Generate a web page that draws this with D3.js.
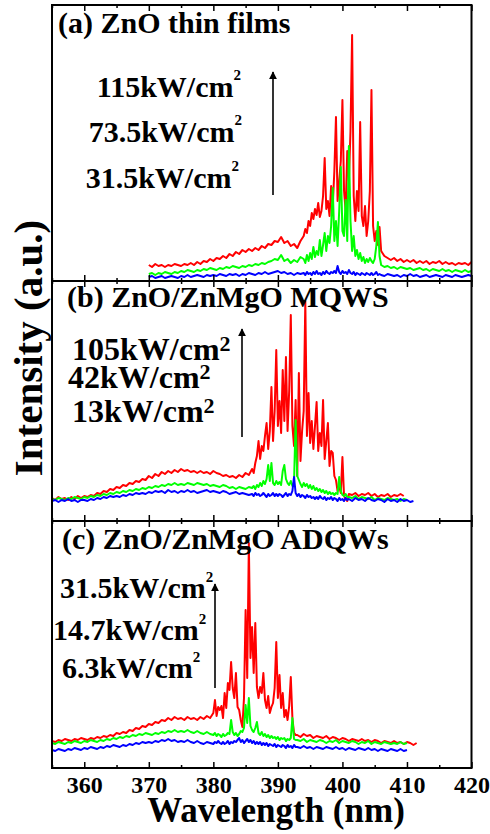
<!DOCTYPE html>
<html>
<head>
<meta charset="utf-8">
<script src="https://cdn.jsdelivr.net/npm/d3@7"></script>
<style>
  body { margin: 0; background: #fff; }
  svg text { font-family: "Liberation Serif", "Times New Roman", serif; font-weight: bold; fill: #000; }
</style>
</head>
<body>
<div id="chart"></div>
<script>
// PL spectra under increasing excitation, three samples stacked

// wavelength sampling (nm): coarse outside the lasing band, finer inside
var waveA = [].concat(d3.range(370, 394, 0.5), d3.range(394, 406, 0.25), d3.range(406, 420.1, 0.5));
var waveB = [].concat(d3.range(355, 386, 0.5), d3.range(386, 401, 0.25), d3.range(401, 411.1, 0.5));
var waveC = [].concat(d3.range(355, 380, 0.5), d3.range(380, 393, 0.25), d3.range(393, 412.1, 0.5));

// (a) ZnO thin films, intensity (a.u.)
var redA = [
  16, 14, 17, 15, 16, 14, 16, 15, 17, 16,
  15, 17, 16, 18, 16, 19, 17, 20, 19, 22,
  20, 23, 22, 25, 23, 27, 25, 29, 27, 31,
  29, 32, 30, 33, 31, 35, 33, 37, 36, 40,
  39, 44, 38, 40, 35, 37, 33, 40,
  45, 52, 48, 60,  55, 68, 62, 72,  66, 78, 64, 70,  85, 123, 72, 80,
  65, 95, 75, 110,  164, 80, 100, 120,  181, 90, 70, 130,  100, 150, 246, 85,
  60, 90, 70, 159,  65, 55, 75, 45,  60, 90, 191, 55,  40, 50, 36, 54,
  30, 25, 23, 21, 23, 20, 22, 19, 21, 19,
  21, 18, 20, 18, 20, 17, 19, 18, 20, 17,
  19, 17, 18, 16, 18, 17, 18, 16, 19
];
var greenA = [
  7, 8, 6, 8, 7, 9, 8, 7, 9, 8,
  10, 9, 11, 10, 9, 11, 10, 12, 11, 13,
  12, 11, 13, 12, 14, 13, 15, 14, 13, 15,
  14, 16, 15, 17, 16, 18, 17, 19, 20, 22,
  21, 26, 20, 22, 18, 21, 19, 24,
  22, 18, 26, 20,  28, 22, 34, 24,  30, 26, 41, 25,  36, 48, 30, 45,
  38, 55, 93, 40,  60, 35, 70, 114,  50, 45, 81, 40,  135, 60, 30, 45,
  25, 31, 22, 28,  20, 24, 18, 22,  19, 23, 20, 18,  22, 35, 59, 25,
  16, 14, 15, 13, 14, 12, 14, 13, 12, 13,
  11, 12, 13, 11, 12, 10, 12, 11, 10, 12,
  10, 11, 9, 11, 10, 9, 11, 9, 10
];
var blueA = [
  4, 5, 3, 4, 5, 3, 4, 5, 4, 3,
  5, 4, 6, 4, 5, 6, 5, 4, 6, 5,
  6, 5, 7, 6, 5, 7, 6, 7, 5, 7,
  6, 8, 7, 6, 8, 7, 9, 7, 8, 9,
  10, 8, 9, 7, 8, 6, 8, 7,
  8, 6, 9, 7,  8, 6, 9, 7,  10, 7, 8, 6,  9, 7, 10, 8,
  7, 9, 8, 10,  8, 15, 9, 7,  10, 8, 9, 7,  11, 8, 7, 9,
  6, 8, 7, 6,  8, 7, 6, 8,  7, 6, 8, 6,  7, 9, 6, 7,
  6, 5, 7, 6, 5, 6, 4, 6, 5, 7,
  5, 6, 4, 5, 6, 4, 5, 6, 5, 4,
  6, 5, 4, 6, 5, 4, 5, 6, 5
];

// (b) ZnO/ZnMgO MQWS
var redB = [
  23, 21, 24, 22, 23, 21, 24, 22, 25, 23,
  25, 24, 26, 25, 28, 27, 30, 29, 32, 31,
  34, 33, 36, 35, 38, 37, 40, 39, 42, 41,
  45, 43, 47, 45, 49, 47, 50, 48, 51, 49,
  52, 50, 51, 49, 50, 48, 50, 48, 49, 47,
  50, 48, 47, 45, 46, 44, 45, 43, 46, 44,
  48, 46,
  52, 48, 58, 65,  80, 62, 75, 70,  85, 98, 72, 90,  134, 80, 110, 171,
  95, 120, 88, 151,  100, 164, 90, 130,  206, 95, 75, 121,  45, 148, 60, 90,
  110, 220, 85, 128,  78, 100, 72, 95,  119, 70, 88, 75,  121, 62, 80, 98,
  55, 70, 68, 45,  41, 30, 35, 28,  64, 25, 22, 20,
  27, 26, 28, 25, 27, 26, 28, 25, 27, 24,
  26, 25, 27, 24, 26, 25, 27, 25
];
var greenB = [
  22, 21, 23, 22, 21, 23, 22, 24, 23, 22,
  24, 23, 25, 24, 26, 25, 27, 26, 28, 27,
  29, 28, 30, 29, 31, 30, 32, 31, 33, 32,
  34, 33, 35, 34, 36, 35, 37, 36, 38, 36,
  37, 36, 38, 37, 36, 38, 37, 36, 37, 35,
  36, 35, 34, 36, 35, 33, 34, 32, 34, 33,
  32, 34,
  33, 35, 32, 36,  34, 38, 35, 40,  37, 42, 56, 40,  58, 38, 36, 40,
  37, 39, 36, 50,  56, 42, 38, 36,  40, 35, 38, 101,  45, 41, 37, 34,
  38, 35, 37, 33,  36, 32, 35, 31,  33, 30, 32, 29,  31, 28, 30, 27,
  29, 27, 28, 26,  28, 27, 44, 30,  26, 25, 27, 24,
  24, 23, 25, 22, 24, 23, 22, 24, 21, 23,
  22, 21, 23, 22, 21, 22, 20, 22, 21
];
var blueB = [
  20, 21, 19, 21, 20, 22, 20, 21, 19, 21,
  21, 20, 22, 21, 23, 22, 24, 23, 25, 24,
  25, 24, 26, 25, 27, 26, 28, 27, 28, 27,
  29, 28, 30, 29, 30, 28, 31, 29, 30, 28,
  30, 29, 31, 29, 30, 28, 29, 30, 31, 29,
  30, 29, 28, 30, 29, 27, 28, 29, 27, 28,
  27, 26,
  27, 25, 28, 26,  27, 25, 26, 28,  26, 24, 27, 25,  26, 28, 25, 27,
  25, 27, 26, 24,  26, 28, 25, 27,  26, 30, 44, 28,  25, 27, 24, 26,
  25, 23, 26, 24,  25, 23, 24, 22,  24, 22, 25, 23,  22, 24, 21, 23,
  22, 24, 21, 23,  22, 20, 23, 21,  22, 20, 23, 21,
  22, 20, 23, 21, 22, 20, 23, 21, 20, 22,
  21, 19, 22, 20, 21, 19, 22, 20, 21, 19, 20
];

// (c) ZnO/ZnMgO ADQWs
var redC = [
  27, 26, 28, 27, 29, 28, 27, 29, 28, 30,
  29, 28, 30, 29, 31, 30, 32, 31, 33, 32,
  35, 34, 36, 35, 38, 37, 40, 39, 42, 41,
  44, 43, 46, 45, 48, 47, 50, 48, 51, 49,
  50, 48, 51, 49, 50, 48, 51, 49, 52, 50,
  55, 68, 52, 61,  58, 62, 50, 75,  60, 85, 78, 106,  80, 70, 95, 61,
  58, 48, 41, 70,  158, 90, 225, 110,  141, 95, 145, 81,  70, 81, 75, 95,
  68, 60, 72, 55,  61, 65, 80, 126,  70, 93, 60, 75,  51, 58, 48, 62,
  91, 50, 35, 33,
  33, 31, 34, 32, 33, 30, 32, 31, 30, 32,
  29, 31, 30, 28, 30, 29, 27, 29, 28, 27,
  29, 27, 28, 26, 28, 27, 25, 27, 26, 25,
  27, 25, 26, 24, 26, 25, 23, 25
];
var greenC = [
  25, 24, 26, 25, 24, 26, 25, 27, 26, 25,
  27, 26, 28, 27, 26, 28, 27, 29, 28, 30,
  29, 31, 30, 32, 31, 33, 32, 34, 33, 35,
  34, 33, 35, 34, 36, 35, 37, 36, 38, 36,
  37, 36, 38, 36, 35, 37, 35, 34, 36, 34,
  33, 35, 32, 34,  33, 31, 34, 32,  33, 35, 34, 48,  36, 33, 35, 32,
  34, 37, 36, 40,  63, 45, 70, 42,  38, 36, 40, 46,  35, 33, 36, 32,
  34, 31, 33, 30,  32, 30, 31, 29,  31, 28, 30, 29,  30, 27, 29, 28,
  30, 50, 29, 28,
  28, 27, 29, 26, 28, 27, 26, 28, 27, 25,
  27, 26, 28, 25, 27, 26, 25, 27, 26, 24,
  26, 25, 27, 24, 26, 25, 24, 26, 25, 24,
  25, 24, 26, 24, 25
];
var blueC = [
  18, 17, 19, 18, 17, 19, 18, 20, 19, 18,
  20, 19, 21, 20, 19, 21, 20, 22, 21, 23,
  22, 21, 23, 22, 24, 23, 25, 24, 26, 25,
  26, 25, 27, 26, 28, 27, 29, 27, 28, 26,
  27, 26, 28, 26, 25, 27, 25, 24, 26, 25,
  24, 26, 25, 27,  25, 24, 26, 24,  25, 27, 24, 26,  25, 27, 26, 28,
  30, 26, 28, 25,  27, 29, 26, 28,  25, 27, 24, 26,  24, 26, 23, 25,
  23, 25, 22, 24,  23, 22, 24, 21,  23, 22, 21, 23,  22, 20, 23, 21,
  22, 20, 23, 21,
  21, 20, 22, 20, 21, 19, 21, 20, 19, 21,
  20, 19, 21, 19, 20, 18, 20, 19, 18, 20,
  19, 18, 20, 18, 19, 17, 19, 18, 17, 19,
  18, 17, 19, 17, 18
];

var majorTicks = [360, 370, 380, 390, 400, 410, 420];
var minorTicks = [355, 365, 375, 385, 395, 405, 415];

var w = 490, h = 834;
var left = 52, right = 471.5;

var panels = [
  { top: 5, bottom: 281, ymax: 276, wave: waveA, series: [redA, greenA, blueA],
    title: "(a) ZnO thin films", tx: 58, ty: 33,
    powers: ["115kW/cm", "73.5kW/cm", "31.5kW/cm"], anchor: "end", px: [241, 242, 239], py: [97, 142, 188],
    fs: 30, sup: 15, supDy: -17, arrow: [273, 195, 70] },
  { top: 281, bottom: 521, ymax: 240, wave: waveB, series: [redB, greenB, blueB],
    title: "(b) ZnO/ZnMgO MQWS", tx: 67, ty: 307,
    powers: ["105kW/cm", "42kW/cm", "13kW/cm"], anchor: "start", px: [72, 68, 72], py: [360, 388, 422],
    fs: 32, sup: 22, supDy: -9, arrow: [242, 437, 327] },
  { top: 521, bottom: 768, ymax: 247, wave: waveC, series: [redC, greenC, blueC],
    title: "(c) ZnO/ZnMgO ADQWs", tx: 62, ty: 549,
    powers: ["31.5kW/cm", "14.7kW/cm", "6.3kW/cm"], anchor: "start", px: [60, 53, 62], py: [598, 640, 678],
    fs: 30, sup: 15, supDy: -16, arrow: [215, 688, 582] }
];
var colors = ["#ff0000", "#00ff00", "#0000ff"];

var svg = d3.select("#chart").append("svg")
  .attr("width", w)
  .attr("height", h);

var x = d3.scaleLinear().domain([355, 420]).range([left, right]);

svg.append("defs").append("marker")
  .attr("id", "head")
  .attr("viewBox", "0 0 10 10")
  .attr("refX", 9).attr("refY", 5)
  .attr("markerWidth", 5).attr("markerHeight", 7)
  .attr("markerUnits", "strokeWidth")
  .attr("orient", "auto")
.append("path")
  .attr("d", "M0,0L10,5L0,10Z")
  .attr("fill", "#000");

panels.forEach(function(p, k) {
  var y = d3.scaleLinear().domain([0, p.ymax]).range([p.bottom, p.top]);
  var g = svg.append("g");

  g.append("clipPath").attr("id", "clip" + k)
    .append("rect")
    .attr("x", left).attr("y", p.top)
    .attr("width", right - left).attr("height", p.bottom - p.top);

  var line = d3.line()
    .x(function(d) { return x(d[0]); })
    .y(function(d) { return y(d[1]); });

  p.series.forEach(function(vals, i) {
    g.append("path")
      .datum(d3.zip(p.wave, vals))
      .attr("clip-path", "url(#clip" + k + ")")
      .attr("fill", "none")
      .attr("stroke", colors[i])
      .attr("stroke-width", 2)
      .attr("stroke-linejoin", "round")
      .attr("d", line);
  });

  // inward ticks, top and bottom
  [[d3.axisBottom, p.bottom], [d3.axisTop, p.top]].forEach(function(a) {
    g.append("g")
      .attr("transform", "translate(0," + a[1] + ")")
      .call(a[0](x).tickValues(majorTicks).tickSize(-6).tickFormat(""))
      .call(function(s) { s.select(".domain").remove(); s.selectAll("line").attr("stroke-width", 1.5); });
    g.append("g")
      .attr("transform", "translate(0," + a[1] + ")")
      .call(a[0](x).tickValues(minorTicks).tickSize(-3).tickFormat(""))
      .call(function(s) { s.select(".domain").remove(); s.selectAll("line").attr("stroke-width", 1.5); });
  });

  g.append("rect")
    .attr("x", left).attr("y", p.top)
    .attr("width", right - left).attr("height", p.bottom - p.top)
    .attr("fill", "none")
    .attr("stroke", "#000")
    .attr("stroke-width", 2);

  g.append("text")
    .attr("x", p.tx).attr("y", p.ty)
    .style("font-size", "30px")
    .text(p.title);

  p.powers.forEach(function(s, i) {
    var t = g.append("text")
      .attr("x", p.px[i]).attr("y", p.py[i])
      .attr("text-anchor", p.anchor)
      .style("font-size", p.fs + "px");
    t.append("tspan").text(s);
    t.append("tspan")
      .attr("dy", p.supDy)
      .style("font-size", p.sup + "px")
      .text("2");
  });

  g.append("line")
    .attr("x1", p.arrow[0]).attr("x2", p.arrow[0])
    .attr("y1", p.arrow[1]).attr("y2", p.arrow[2] + 2)
    .attr("stroke", "#000")
    .attr("stroke-width", 1.6)
    .attr("marker-end", "url(#head)");
});

// x tick labels under the bottom panel
svg.append("g")
  .attr("transform", "translate(0,768)")
  .call(d3.axisBottom(x).tickValues(majorTicks).tickSize(0).tickPadding(8).tickFormat(d3.format("d")))
  .call(function(s) {
    s.select(".domain").remove();
    s.selectAll("text").style("font-size", "24px").attr("fill", "#000");
  });

svg.append("text")
  .attr("x", 276).attr("y", 822)
  .attr("text-anchor", "middle")
  .style("font-size", "35px")
  .text("Wavelength (nm)");

svg.append("text")
  .attr("transform", "translate(42,348) rotate(-90)")
  .attr("text-anchor", "middle")
  .style("font-size", "41px")
  .text("Intensity (a.u.)");
</script>
</body>
</html>
